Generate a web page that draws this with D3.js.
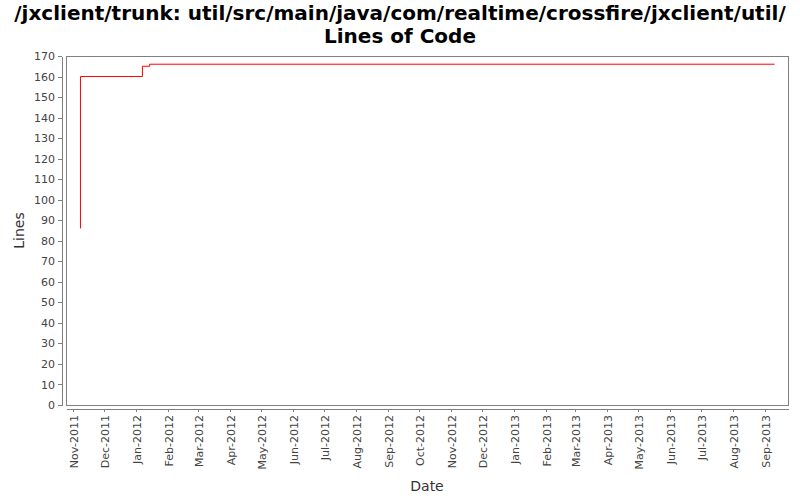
<!DOCTYPE html>
<html>
<head>
<meta charset="utf-8">
<script src="https://cdn.jsdelivr.net/npm/d3@7"></script>
<style>
  body { margin: 0; background: #fff; }
  svg { font-family: "DejaVu Sans", sans-serif; }
</style>
</head>
<body>
<div id="chart"></div>
<script>
const titleLines = ['/jxclient/trunk: util/src/main/java/com/realtime/crossfire/jxclient/util/', 'Lines of Code'];
const dates = ['2011-11-08', '2011-11-08', '2012-01-07', '2012-01-14', '2013-09-10'];
const lines = [86, 160, 165, 166, 166];
const yTicks = d3.range(0, 171, 10);
const xDomain = ['2011-10-25', '2013-09-23'];

const parse = d3.utcParse('%Y-%m-%d');
const data = dates.map((d, i) => ({ date: parse(d), value: lines[i] }));

const width = 800;
const height = 500;
const plot = { left: 66, right: 788, top: 56, bottom: 405 };

const svg = d3.select('#chart')
  .append('svg')
  .attr('width', width)
  .attr('height', height);

// title
svg.append('g')
  .selectAll('text')
  .data(titleLines)
  .join('text')
  .attr('x', width / 2)
  .attr('y', (d, i) => 20 + i * 23)
  .attr('text-anchor', 'middle')
  .attr('font-size', 20)
  .attr('font-weight', 'bold')
  .attr('fill', '#000')
  .text(d => d);

const x = d3.scaleUtc()
  .domain(xDomain.map(parse))
  .range([plot.left, plot.right]);

const y = d3.scaleLinear()
  .domain([0, 170])
  .range([plot.bottom, plot.top]);

// plot area
svg.append('rect')
  .attr('x', plot.left)
  .attr('y', plot.top)
  .attr('width', plot.right - plot.left)
  .attr('height', plot.bottom - plot.top)
  .attr('fill', '#fff')
  .attr('stroke', '#808080')
  .attr('stroke-width', 1)
  .attr('shape-rendering', 'crispEdges');

// y axis
const yAxis = d3.axisLeft(y)
  .tickValues(yTicks)
  .tickSize(4)
  .tickPadding(3)
  .tickSizeOuter(0);

const gy = svg.append('g')
  .attr('transform', `translate(${plot.left - 4},0)`)
  .call(yAxis);

// x axis
const xAxis = d3.axisBottom(x)
  .ticks(d3.utcMonth.every(1))
  .tickFormat(d3.utcFormat('%b-%Y'))
  .tickSize(3)
  .tickSizeOuter(0);

const gx = svg.append('g')
  .attr('transform', `translate(0,${plot.bottom + 4})`)
  .call(xAxis);

gx.selectAll('.tick text')
  .attr('transform', 'rotate(-90)')
  .attr('text-anchor', 'end')
  .attr('x', -6)
  .attr('y', 0)
  .attr('dy', '0.35em');

[gx, gy].forEach(g => {
  g.select('.domain').attr('stroke', '#808080').attr('shape-rendering', 'crispEdges');
  g.selectAll('.tick line').attr('stroke', '#808080').attr('shape-rendering', 'crispEdges');
  g.selectAll('.tick text')
    .attr('fill', '#444')
    .attr('font-size', 11)
    .attr('font-family', '"DejaVu Sans", sans-serif');
});

// axis labels
svg.append('text')
  .attr('x', (plot.left + plot.right) / 2)
  .attr('y', 491)
  .attr('text-anchor', 'middle')
  .attr('font-size', 14)
  .attr('fill', '#333')
  .text('Date');

svg.append('text')
  .attr('transform', `translate(24,${(plot.top + plot.bottom) / 2}) rotate(-90)`)
  .attr('text-anchor', 'middle')
  .attr('font-size', 14)
  .attr('fill', '#333')
  .text('Lines');

// line
const line = d3.line()
  .x(d => x(d.date))
  .y(d => y(d.value))
  .curve(d3.curveStepAfter);

svg.append('path')
  .datum(data)
  .attr('d', line)
  .attr('fill', 'none')
  .attr('stroke', '#ff0000')
  .attr('stroke-width', 1);
</script>
</body>
</html>
